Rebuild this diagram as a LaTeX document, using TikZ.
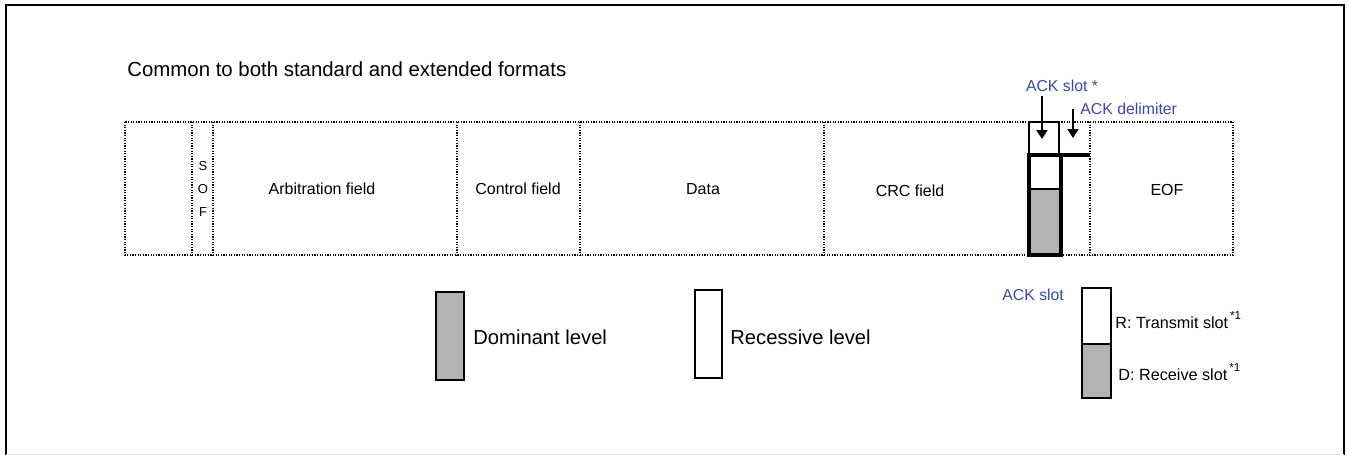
\documentclass[tikz,border=0pt]{standalone}
\usepackage{fontspec}
\setmainfont{Liberation Sans}
\usetikzlibrary{math,arrows.meta}
\definecolor{ackblue}{RGB}{58,72,168}
\definecolor{levelgray}{RGB}{179,179,179}
\newcommand{\fnmark}{\kern1pt\raisebox{1.1ex}{\fontsize{5.8}{6}\selectfont *1}}

\begin{document}
\begin{tikzpicture}[x=0.5pt,y=-0.5pt,
    dotline/.style={line width=1pt,dash pattern=on 0.6pt off 0.7pt},
    fieldtext/.style={inner sep=0pt,font=\fontsize{8}{9.6}\selectfont},
    bluetext/.style={inner sep=0pt,text=ackblue,font=\fontsize{7.9}{9}\selectfont},
    leveltext/.style={anchor=west,inner sep=0pt,font=\fontsize{10.1}{12}\selectfont},
    slottext/.style={anchor=west,inner sep=0pt,font=\fontsize{8.1}{9}\selectfont},
    ackarrow/.style={line width=1pt,-{Triangle[width=5.5pt,length=4.5pt]}}]
      \tikzmath{\rtop = 122; \rbot = 255; \rmid = 189; \ackl = 1029; \ackr = 1061; \ackm = 155;}
      \useasboundingbox (0,0) rectangle (1350,455);
      % outer frame
      \draw[line width=1.2pt] (6,455) -- (6,5) -- (1344,5) -- (1344,455);
      \draw[black!12] (6,454) -- (1344,454);
      \node[anchor=west,inner sep=0pt,font=\fontsize{10.2}{12}\selectfont] (common) at (127,69) {Common to both standard and extended formats};
      % frame fields
      \draw[dotline] (125,\rtop) rectangle (1233,\rbot);
      \foreach \x in {192,213,457,580,824,1090}
        \draw[dotline] (\x,\rtop) -- (\x,\rbot);
      \node[fieldtext,align=center,font=\fontsize{6.5}{11.5}\selectfont] (sof) at (203,\rmid) {S\\O\\F};
      \node[fieldtext] (arb) at (322,\rmid) {Arbitration field};
      \node[fieldtext] (ctrl) at (518,\rmid) {Control field};
      \node[fieldtext] (data) at (703,\rmid) {Data};
      \node[fieldtext] (crc) at (910,191) {CRC field};
      \node[fieldtext] (eof) at (1167,190) {EOF};
      % ACK slot
      \draw[line width=0.8pt,fill=white] (\ackl,\rtop) rectangle (1059,\ackm);
      \fill[white] (\ackl,\ackm) rectangle (\ackr,189);
      \fill[levelgray] (\ackl,189) rectangle (\ackr,\rbot);
      \draw[line width=0.8pt] (\ackl,189) -- (\ackr,189);
      \draw[line width=2.3pt] (\ackl,\rbot) rectangle (\ackr,\ackm);
      \draw[line width=2.3pt] (\ackl,\ackm) -- (1090,\ackm);
      \node[bluetext] (ackslot) at (1062,86) {ACK slot *};
      \node[bluetext,anchor=west] (ackdel) at (1080,109) {ACK delimiter};
      \coordinate (slotend) at (1042,139);
      \coordinate (delend) at (1073,138);
      \draw[ackarrow] (ackslot.south -| slotend) ++(0,4) -- (slotend);
      \draw[ackarrow] (ackdel.west -| delend) -- (delend);
      % levels
      \draw[line width=0.8pt,fill=levelgray] (436,292) rectangle (464,380);
      \node[leveltext] (dom) at (473,337) {Dominant level};
      \draw[line width=0.8pt] (695,290) rectangle (722,378);
      \node[leveltext] (rec) at (730,337) {Recessive level};
      % ACK slot legend
      \node[bluetext,anchor=west] (acklegend) at (1002,295) {ACK slot};
      \draw[line width=0.8pt] (1082,288) rectangle (1111,344);
      \draw[line width=0.8pt,fill=levelgray] (1082,344) rectangle (1111,398);
      \node[slottext] (tx) at (1115,320) {R: Transmit slot\fnmark};
      \node[slottext] (rx) at (1118,372) {D: Receive slot\fnmark};
\end{tikzpicture}
\end{document}
